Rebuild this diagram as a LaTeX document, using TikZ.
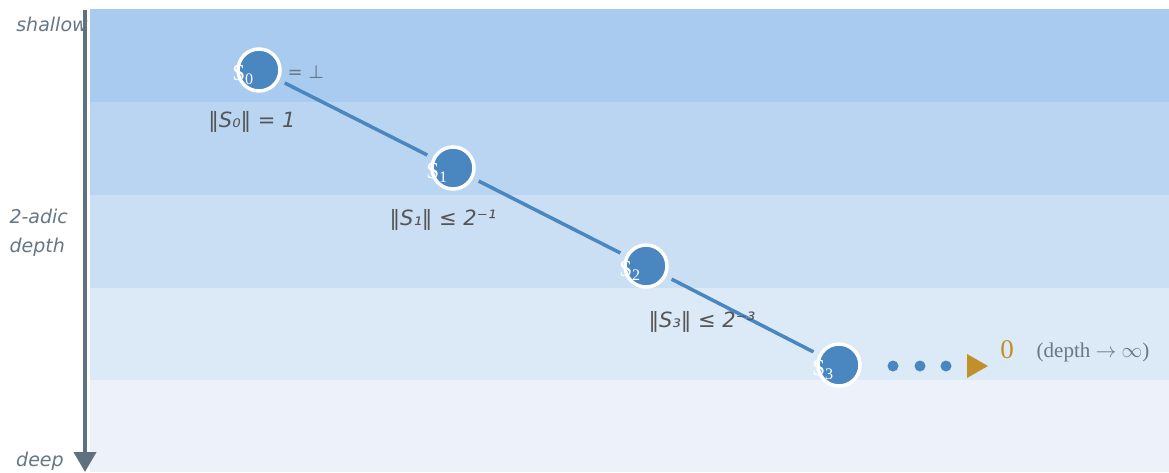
\documentclass[tikz,border=0pt]{standalone}
\usepackage{fontspec}
\usetikzlibrary{arrows.meta}
\newfontfamily\dejasans{DejaVu Sans}
\newfontfamily\libserif{Liberation Serif}
\definecolor{bandA}{HTML}{A9CBEF}
\definecolor{bandB}{HTML}{BAD5F2}
\definecolor{bandC}{HTML}{CADEF4}
\definecolor{bandD}{HTML}{DCE9F7}
\definecolor{bandE}{HTML}{EDF2FA}
\definecolor{nodeblue}{HTML}{4A86C0}
\definecolor{axisgray}{HTML}{5F707E}
\definecolor{axistext}{HTML}{667785}
\definecolor{normgray}{HTML}{555555}
\definecolor{gold}{HTML}{C0902A}
\begin{document}
\begin{tikzpicture}[x=1pt,y=-1pt,
  stnode/.style={circle,fill=nodeblue,draw=white,line width=3.5pt,minimum size=42pt,inner sep=0pt},
  stlab/.style={text=white,font=\libserif\fontsize{23}{23}\selectfont},
  normlab/.style={text=normgray,font=\dejasans\itshape\fontsize{21}{21}\selectfont},
  axlab/.style={text=axistext,font=\dejasans\itshape\fontsize{19}{29}\selectfont,align=left},
  link/.style={nodeblue,line width=3.5pt,shorten >=6pt,shorten <=6pt},
  dotnode/.style={circle,fill=nodeblue,minimum size=11pt,inner sep=0pt}]
\useasboundingbox (0,0) rectangle (1169,472);
\fill[white] (0,0) rectangle (1169,472);
% bands
\fill[bandA] (90,9) rectangle (1169,102);
\fill[bandB] (90,102) rectangle (1169,195);
\fill[bandC] (90,195) rectangle (1169,288);
\fill[bandD] (90,288) rectangle (1169,380);
\fill[bandE] (90,380) rectangle (1169,472);
% axis
\coordinate (axtop) at (85,10);
\coordinate (axbot) at (85,472);
\draw[axisgray,line width=4pt,-{Triangle[width=22pt,length=20pt]}] (axtop) -- (axbot);
\node[axlab,anchor=center] (shallow) at (52,24) {shallow};
\node[axlab,anchor=west] (adic) at (6,233) {2-adic\\depth};
\node[axlab,anchor=center] (deep) at (40,461) {deep};
% nodes
\node[stnode,label={[stlab,xshift=-16pt,yshift=-5pt]center:S\textsubscript{0}}] (s0) at (259,70) {};
\node[stnode,label={[stlab,xshift=-16pt,yshift=-5pt]center:S\textsubscript{1}}] (s1) at (453,168) {};
\node[stnode,label={[stlab,xshift=-16pt,yshift=-5pt]center:S\textsubscript{2}}] (s2) at (646,266) {};
\node[stnode,label={[stlab,xshift=-16pt,yshift=-5pt]center:S\textsubscript{3}}] (s3) at (839,365) {};
\draw[link] (s0) -- (s1);
\draw[link] (s1) -- (s2);
\draw[link] (s2) -- (s3);
\node[text=axistext,anchor=west,font=\dejasans\fontsize{18}{18}\selectfont] (bot) at (284,72) {= ⊥};
% norm labels
\node[normlab] (n0) at (252,122) {‖S₀‖ = 1};
\node[normlab] (n1) at (443,220) {‖S₁‖ ≤ 2⁻¹};
\node[normlab] (n3) at (702,322) {‖S₃‖ ≤ 2⁻³};
% dots and limit
\node[dotnode] (d1) at (893,366) {};
\node[dotnode] (d2) at (920,366) {};
\node[dotnode] (d3) at (946,366) {};
\fill[gold] (967,354) -- (988,366) -- (967,378) -- cycle;
\node[text=gold,font=\libserif\fontsize{27}{27}\selectfont] (zero) at (1007,350) {0};
\node[text=axistext,font=\libserif\fontsize{21}{21}\selectfont] (lim) at (1093,352) {(depth $\rightarrow$ $\infty$)};
\end{tikzpicture}
\end{document}
